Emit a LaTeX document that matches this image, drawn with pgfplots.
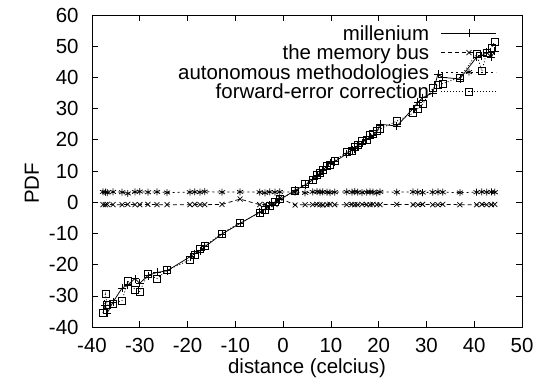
\documentclass[border=0pt]{standalone}
\usepackage{fontspec}
\setmainfont{Liberation Sans}
\usepackage{pgfplots}
\usepackage{pgfplotstable}
\pgfplotsset{compat=1.18}
\pgfplotstableread{
x mil bus aut fec
-37.7 -34.5 -0.8 3.3 -35.5
-37.2 -33.0 -0.8 3.2 -29.5
-36.8 -35.5 -0.7 3.1 -33.0
-35.6 -32.0 -0.8 3.3 -32.5
-33.7 -27.5 -0.8 3.2 -31.5
-32.5 -26.5 -0.7 2.8 -25.3
-31.0 -24.5 -0.8 3.3 -28.0
-30.0 -26.0 -0.8 3.4 -28.6
-28.3 -23.5 -0.7 3.2 -23.0
-26.4 -22.5 -0.8 3.3 -24.5
-24.3 -22.0 -0.8 3.1 -21.8
-19.5 -17.5 -0.8 3.2 -18.5
-18.5 -16.5 -0.7 3.3 -16.8
-17.4 -15.5 -0.8 3.2 -15.0
-16.4 -14.3 -0.8 3.4 -14.0
-12.8 -10.2 -0.7 3.2 -10.0
-9.0 -6.8 1.0 3.3 -6.5
-4.9 -3.2 -0.8 3.2 -3.5
-3.8 -2.2 -0.7 3.0 -2.5
-2.8 -1.0 -0.8 3.3 -1.2
-1.7 0.0 -0.7 3.2 0.2
-0.7 0.8 1.3 3.3 1.0
2.5 3.8 -0.9 3.2 3.5
4.6 5.5 -0.8 3.0 5.8
6.2 7.2 -0.8 3.3 7.0
7.1 8.5 -0.7 3.4 8.8
7.7 9.0 -0.8 3.2 9.5
8.3 10.2 -0.9 3.3 10.5
9.2 11.6 -0.8 3.2 11.5
9.8 12.5 -0.7 3.1 12.0
10.8 13.0 -0.8 3.2 13.3
13.3 15.5 -0.8 3.3 16.0
14.4 16.8 -0.7 3.2 16.5
15.0 17.2 -0.8 3.4 17.8
15.6 18.0 -0.8 3.2 18.5
16.5 19.0 -0.7 3.1 19.5
17.5 20.2 -0.8 3.2 20.0
18.2 21.0 -0.8 3.3 21.5
18.8 21.5 -0.7 3.2 22.0
19.6 22.5 -0.8 3.0 22.8
20.3 25.0 -0.8 3.3 23.5
23.8 24.4 -0.7 3.2 26.0
27.2 30.0 -0.8 3.3 28.5
28.2 32.0 -0.8 3.2 30.0
29.2 33.5 -0.7 3.1 31.5
31.3 35.0 -0.8 3.2 36.5
32.4 41.0 -0.8 3.3 37.5
33.4 40.0 -0.7 3.2 38.0
37.0 39.5 -0.8 3.1 40.0
40.5 46.5 -0.8 3.2 47.5
41.6 47.0 -0.7 3.3 42.0
42.6 48.0 -0.8 3.2 48.0
43.6 46.5 -0.8 3.3 49.5
44.3 48.5 -0.7 3.2 51.5
}\data
\begin{document}
\begin{tikzpicture}
\useasboundingbox (-92bp,-62bp) rectangle (448bp,327bp);
\begin{axis}[
  scale only axis, width=430bp, height=312bp,
  xmin=-40, xmax=50, ymin=-40, ymax=60,
  xtick={-40,-30,...,50}, ytick={-40,-30,...,60},
  minor tick num=0,
  tick align=inside, major tick length=6bp,
  axis line style={line width=0.8bp},
  every tick/.style={line width=0.6bp, black},
  /pgf/number format/assume math mode=true,
  tick label style={font=\fontsize{20.5}{24}\selectfont},
  xticklabel style={yshift=-8bp},
  yticklabel style={xshift=-10bp},
  xlabel={distance (celcius)},
  ylabel={PDF},
  every axis x label/.style={at={(axis description cs:0.5,-0.131)}, anchor=center, font=\fontsize{20.5}{24}\selectfont},
  every axis y label/.style={at={(axis description cs:-0.14,0.46)}, anchor=center, rotate=90, font=\fontsize{20.5}{24}\selectfont},
  legend plot pos=right,
  legend cell align=right,
  legend style={draw=none, fill=none, at={(axis description cs:0.942,0.965)}, anchor=north east,
    inner sep=0pt, row sep=1.5bp, column sep=12bp,
    font=\fontsize{20.5}{24}\selectfont,
    nodes={inner sep=0pt, text height=14bp, text depth=4bp}},
  legend image code/.code={\draw[mark repeat=2,mark phase=2,#1] plot coordinates {(0bp,2bp) (27.5bp,2bp) (55bp,2bp)};},
  every axis plot/.append style={line width=0.75bp, black},
]
\addplot[solid, mark=+, mark size=4bp, mark options={solid}] table[x=x,y=mil] {\data};
\addlegendentry{millenium}
\addplot[dash pattern=on 4bp off 3bp, mark=x, mark size=3.5bp, mark options={solid}] table[x=x,y=bus] {\data};
\addlegendentry{the memory bus}
\addplot[dash pattern=on 2bp off 3bp, mark=asterisk, mark size=3.5bp, mark options={solid}] table[x=x,y=aut] {\data};
\addlegendentry{autonomous methodologies}
\addplot[dash pattern=on 1bp off 2bp, mark=square, mark size=3.5bp, mark options={solid}] table[x=x,y=fec] {\data};
\addlegendentry{forward-error correction}
\end{axis}
\end{tikzpicture}
\end{document}
